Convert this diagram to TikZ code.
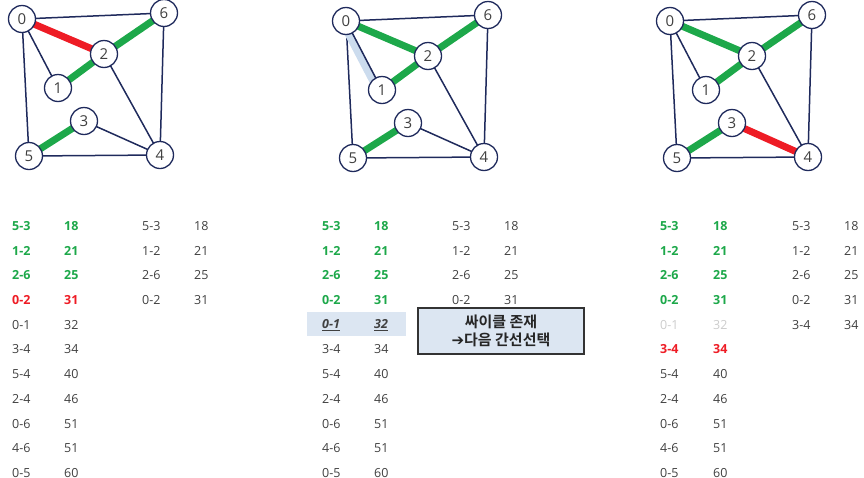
\documentclass[tikz,border=0pt]{standalone}
\usepackage{fontspec}
\setmainfont{Open Sans}
\newfontfamily\krfont{Noto Sans CJK KR}[BoldFont={Noto Sans CJK KR Bold}]
\newfontfamily\dvfont{DejaVu Sans}
\usetikzlibrary{backgrounds}
\definecolor{navy}{HTML}{1F2A5C}
\definecolor{gr}{HTML}{1DA84A}
\definecolor{rd}{HTML}{EE1C25}
\definecolor{txt}{HTML}{404040}
\definecolor{faded}{HTML}{CCCCCC}
\definecolor{hl}{HTML}{DCE6F2}
\definecolor{stripe}{HTML}{CCDCEE}
\tikzset{
 vtx/.style={circle,draw=navy,line width=1.3pt,fill=white,minimum size=27pt,inner sep=0pt,font=\fontsize{15}{15}\selectfont,text=txt},
 edge/.style={draw=navy,line width=1.5pt},
 sel/.style={draw=gr,line width=7pt},
 cur/.style={draw=rd,line width=7pt},
 cell/.style={anchor=west,inner sep=0pt,font=\fontsize{12.5}{14}\selectfont,text=txt},
 gb/.style={text=gr,font=\fontsize{12.5}{14}\selectfont\bfseries},
 rb/.style={text=rd,font=\fontsize{12.5}{14}\selectfont\bfseries},
 fd/.style={text=faded},
 pl/.style={},
 hi/.style={text=txt,font=\fontsize{12.5}{14}\selectfont\bfseries\itshape},
}
% per-panel row styles
\tikzset{
 A0/.style=gb,A1/.style=gb,A2/.style=gb,A3/.style=rb,A4/.style=pl,A5/.style=pl,A6/.style=pl,A7/.style=pl,A8/.style=pl,A9/.style=pl,A10/.style=pl,
 B0/.style=gb,B1/.style=gb,B2/.style=gb,B3/.style=gb,B4/.style=hi,B5/.style=pl,B6/.style=pl,B7/.style=pl,B8/.style=pl,B9/.style=pl,B10/.style=pl,
 C0/.style=gb,C1/.style=gb,C2/.style=gb,C3/.style=gb,C4/.style=fd,C5/.style=rb,C6/.style=pl,C7/.style=pl,C8/.style=pl,C9/.style=pl,C10/.style=pl,
}
\newcommand\gverts[3]{%
 \begin{scope}[shift={(#2,#3)}]
 \node[vtx] (#1-0) at (22,19) {0};
 \node[vtx] (#1-6) at (164,13) {6};
 \node[vtx] (#1-2) at (104,54) {2};
 \node[vtx] (#1-1) at (58,88) {1};
 \node[vtx] (#1-3) at (84,121) {3};
 \node[vtx] (#1-5) at (29,156) {5};
 \node[vtx] (#1-4) at (160,155) {4};
 \end{scope}}
\newcommand\gedges[1]{%
 \draw[edge] (#1-0.center) -- (#1-6.center);
 \draw[edge] (#1-0.center) -- (#1-5.center);
 \draw[edge] (#1-2.center) -- (#1-4.center);
 \draw[edge] (#1-3.center) -- (#1-4.center);
 \draw[edge] (#1-5.center) -- (#1-4.center);
 \draw[edge] (#1-6.center) -- (#1-4.center);
 \draw[edge] (#1-0.center) -- (#1-2.center);
 \draw[sel] (#1-5.center) -- (#1-3.center);
 \draw[sel] (#1-1.center) -- (#1-2.center);
 \draw[sel] (#1-2.center) -- (#1-6.center);}
\begin{document}
\begin{tikzpicture}[x=1pt,y=-1pt]
\useasboundingbox (0,0) rectangle (864,477);
\gverts{a}{0}{0}
\gverts{b}{324}{2}
\gverts{c}{648}{2}
\begin{pgfonlayer}{background}
\gedges{a}
\gedges{b}
\gedges{c}
\draw[edge] (a-0.center) -- (a-1.center);
\draw[edge] (c-0.center) -- (c-1.center);
\draw[cur] (a-0.center) -- (a-2.center);
\draw[sel] (b-0.center) -- (b-2.center);
\draw[sel] (c-0.center) -- (c-2.center);
\draw[cur] (c-3.center) -- (c-4.center);
\draw[draw=stripe,line width=8pt] ([xshift=-4pt]b-0.center) -- ([xshift=-4pt]b-1.center);
\draw[edge] (b-0.center) -- (b-1.center);
\end{pgfonlayer}
% highlight row
\node[fill=hl,minimum width=99pt,minimum height=24pt,inner sep=0pt] (hlrow) at (356.5,324) {};
% main tables
\foreach \e/\w [count=\i from 0] in {5-3/18,1-2/21,2-6/25,0-2/31,0-1/32,3-4/34,5-4/40,2-4/46,0-6/51,4-6/51,0-5/60}{
 \node[cell,A\i] (ae\i) at (12,{226+24.7*\i}) {\e};
 \node[cell,A\i] (aw\i) at (64,{226+24.7*\i}) {\w};
 \node[cell,C\i] (ce\i) at (660,{226+24.7*\i}) {\e};
 \node[cell,C\i] (cw\i) at (713,{226+24.7*\i}) {\w};
}
\foreach \e/\w [count=\i from 0] in {5-3/18,1-2/21,2-6/25,0-2/31,0-1/\underline{32},3-4/34,5-4/40,2-4/46,0-6/51,4-6/51,0-5/60}{
 \node[cell,B\i] (be\i) at (322,{226+24.7*\i}) {\ifnum\i=4 \underline{\e}\else\e\fi};
 \node[cell,B\i] (bw\i) at (374,{226+24.7*\i}) {\w};
}
% right small tables
\foreach \e/\w [count=\i from 0] in {5-3/18,1-2/21,2-6/25,0-2/31}{
 \node[cell] (xe\i) at (142,{226+24.7*\i}) {\e};
 \node[cell] (xw\i) at (194,{226+24.7*\i}) {\w};
 \node[cell] (ye\i) at (452,{226+24.7*\i}) {\e};
 \node[cell] (yw\i) at (504,{226+24.7*\i}) {\w};
}
\foreach \e/\w [count=\i from 0] in {5-3/18,1-2/21,2-6/25,0-2/31,3-4/34}{
 \node[cell] (ze\i) at (792,{226+24.7*\i}) {\e};
 \node[cell] (zw\i) at (844,{226+24.7*\i}) {\w};
}
% callout
\node[draw=txt!80!black,line width=1.2pt,fill=hl,minimum width=166pt,minimum height=46pt,inner sep=0pt,align=center,text=black!85,font=\fontsize{15}{18}\selectfont\bfseries] (note) at (501,331) {{\krfont 싸이클 존재}\\{\dvfont ➔}{\krfont 다음 간선선택}};
\end{tikzpicture}
\end{document}
